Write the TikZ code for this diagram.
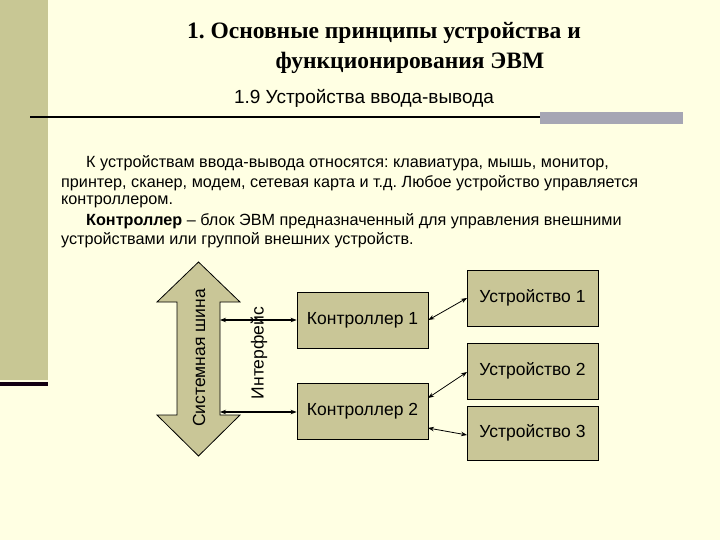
\documentclass[tikz,border=0pt]{standalone}
\usepackage{fontspec}
\setmainfont{Liberation Sans}
\newfontfamily\serifb{Liberation Serif}
\usetikzlibrary{arrows.meta}
\definecolor{bg}{HTML}{FFFFE3}
\definecolor{olive}{HTML}{C8C794}
\definecolor{boxc}{HTML}{C9C697}
\definecolor{grayb}{HTML}{A6A6B4}
\frenchspacing
\begin{document}
\begin{tikzpicture}[x=1pt,y=-1pt,
  box/.style={draw=black,fill=boxc,line width=0.8pt,minimum width=131pt,minimum height=56pt,font=\fontsize{17.5}{19}\selectfont},
  link/.style={{Stealth[length=6pt]}-{Stealth[length=6pt]},line width=1.2pt},
  body/.style={anchor=west,inner sep=0pt,font=\fontsize{16.2}{18}\selectfont}]
\useasboundingbox (0,0) rectangle (720,540);
\fill[bg] (0,0) rectangle (720,540);
\fill[olive] (0,0) rectangle (48,380);
\fill[black!85!violet] (0,382) rectangle (48,386);
\node (t1) at (384,33) {\serifb\bfseries\fontsize{23.5}{26}\selectfont 1. Основные принципы устройства и};
\node (t2) at (410,63) {\serifb\bfseries\fontsize{23.5}{26}\selectfont функционирования ЭВМ};
\node (t3) at (364,98) {\fontsize{19}{21}\selectfont 1.9 Устройства ввода-вывода};
\draw[line width=1.5pt] (30,117) -- (540,117);
\fill[grayb] (540,112) rectangle (683,124);
\node[body] (b1) at (86,163) {К устройствам ввода-вывода относятся: клавиатура, мышь, монитор,};
\node[body] (b2) at (61,183) {принтер, сканер, модем, сетевая карта и т.д. Любое устройство управляется};
\node[body] (b3) at (61,202) {контроллером.};
\node[body] (b4) at (86,221) {\textbf{Контроллер} – блок ЭВМ предназначенный для управления внешними};
\node[body] (b5) at (61,240) {устройствами или группой внешних устройств.};
\draw[fill=boxc,line width=0.8pt] (198.5,262) -- (240,302) -- (220,302) -- (220,415) -- (240,415)
  -- (198.5,456) -- (157,415) -- (177,415) -- (177,302) -- (157,302) -- cycle;
\node[rotate=90,font=\fontsize{17.5}{19}\selectfont] (busl) at (199,358) {Системная шина};
\node[box] (c1) at (362.5,320) {Контроллер 1};
\node[box] (c2) at (362.5,411.5) {Контроллер 2};
\node[box] (d1) at (532.5,298) {Устройство 1};
\node[box] (d2) at (532.5,371) {Устройство 2};
\node[box,minimum height=54pt] (d3) at (532.5,433) {Устройство 3};
\coordinate (i1) at (220,320);
\coordinate (i2) at (220,412);
\draw[link] (i1) -- (c1.west);
\draw[link] (i2) -- (c2.west |- i2);
\node[rotate=90,font=\fontsize{17.5}{19}\selectfont] (intl) at (259,353) {Интерфейс};
\coordinate (p1) at (467,298);
\coordinate (p2) at (428,398);
\coordinate (p3) at (467,372);
\coordinate (p4) at (428,428);
\coordinate (p5) at (467,435);
\draw[link,line width=0.8pt] (c1.east) -- (p1);
\draw[link,line width=0.8pt] (p2) -- (p3);
\draw[link,line width=0.8pt] (p4) -- (p5);
\end{tikzpicture}
\end{document}
